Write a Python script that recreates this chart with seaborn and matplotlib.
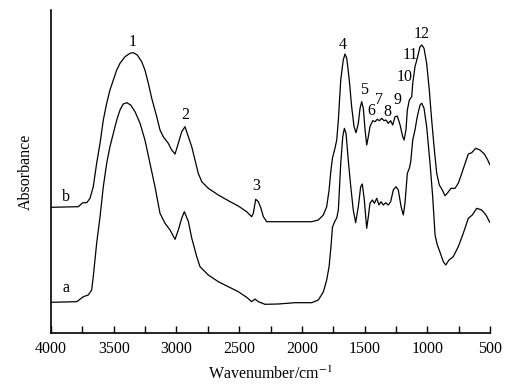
import matplotlib
matplotlib.use("Agg")
import matplotlib.pyplot as plt
import seaborn as sns
import pandas as pd
from matplotlib.ticker import MultipleLocator

# Curve b (upper): wavenumber (cm-1) and absorbance (arbitrary units)
wn_b = [4000, 3782, 3747, 3715, 3689, 3663, 3636, 3609, 3583, 3556, 3530, 3503, 3476, 3450,
        3410, 3370, 3344, 3312, 3277, 3251, 3224, 3197, 3157, 3131, 3105, 3065, 3038, 3011,
        2985, 2958, 2932, 2905, 2878, 2852, 2826, 2798, 2746, 2666, 2586, 2507, 2440, 2400,
        2387, 2368, 2347, 2326, 2307, 2280, 2188, 2055, 1921, 1869, 1829, 1802, 1783, 1768,
        1756, 1736, 1722, 1709, 1690, 1670, 1656, 1642, 1622, 1603, 1584, 1568, 1550, 1536,
        1523, 1510, 1496, 1483, 1470, 1457, 1435, 1417, 1398, 1382, 1363, 1345, 1329, 1311,
        1292, 1276, 1257, 1239, 1217, 1196, 1185, 1170, 1159, 1143, 1124, 1116, 1098, 1080,
        1058, 1044, 1026, 1005, 984, 965, 946, 925, 904, 880, 859, 837, 811, 779, 753, 725,
        694, 673, 646, 614, 580, 545, 518, 500]
ab_b = [125.7, 126.3, 130.3, 130.3, 134.7, 146.3, 169.7, 189.7, 213.0, 229.7, 243.0, 253.0,
        263.0, 269.7, 276.3, 279.7, 280.3, 278.0, 271.3, 263.0, 249.7, 234.7, 216.3, 203.0,
        196.3, 189.7, 183.0, 179.0, 189.7, 201.3, 206.3, 196.3, 186.3, 173.0, 159.7, 151.3,
        144.7, 138.0, 132.3, 127.0, 121.3, 116.3, 119.7, 133.7, 131.3, 124.7, 116.3, 111.3,
        111.3, 111.3, 111.3, 113.0, 118.0, 126.3, 143.0, 163.0, 175.0, 184.7, 193.0, 213.0,
        253.0, 273.0, 279.0, 274.7, 253.0, 226.3, 206.3, 200.3, 209.7, 224.7, 231.3, 224.7,
        203.0, 188.0, 196.3, 206.3, 212.3, 211.3, 213.7, 212.3, 214.7, 212.3, 213.0, 209.7,
        212.3, 208.0, 216.3, 217.0, 208.0, 196.3, 193.0, 203.0, 223.0, 233.0, 236.3, 249.7,
        266.3, 274.7, 286.3, 288.0, 284.7, 269.7, 243.0, 213.0, 186.3, 159.7, 148.0, 143.0,
        137.3, 140.3, 144.7, 144.7, 149.7, 159.7, 171.3, 179.0, 180.3, 184.7, 183.0, 179.0,
        173.0, 168.0]

# Curve a (lower)
wn_a = [4000, 3795, 3742, 3703, 3676, 3663, 3636, 3609, 3583, 3556, 3530, 3503, 3476, 3450,
        3424, 3396, 3365, 3330, 3290, 3251, 3211, 3171, 3131, 3091, 3051, 3011, 2985, 2958,
        2937, 2905, 2878, 2838, 2812, 2746, 2666, 2586, 2507, 2440, 2400, 2374, 2347, 2294,
        2188, 2055, 1921, 1869, 1829, 1802, 1783, 1768, 1756, 1736, 1722, 1709, 1690, 1674,
        1661, 1648, 1630, 1610, 1590, 1571, 1550, 1531, 1518, 1502, 1483, 1470, 1457, 1438,
        1422, 1403, 1385, 1369, 1351, 1331, 1311, 1292, 1271, 1249, 1231, 1209, 1191, 1178,
        1159, 1143, 1132, 1116, 1098, 1080, 1058, 1044, 1026, 1005, 978, 957, 938, 920, 899,
        891, 872, 853, 827, 793, 753, 713, 673, 641, 606, 566, 532, 500]
ab_a = [30.7, 31.3, 36.3, 38.0, 43.0, 56.3, 89.7, 116.3, 146.3, 169.7, 186.3, 199.7, 213.0,
        223.0, 229.0, 230.3, 228.0, 221.3, 209.7, 193.0, 169.7, 146.3, 119.7, 109.7, 103.0,
        93.7, 103.0, 114.7, 121.3, 111.5, 95.0, 76.3, 66.3, 58.0, 51.3, 46.3, 41.3, 35.7,
        31.3, 34.0, 31.3, 28.7, 29.0, 30.3, 30.3, 33.0, 41.0, 53.0, 66.3, 86.3, 106.0, 112.0,
        115.0, 123.0, 169.7, 196.3, 204.7, 199.7, 173.0, 146.3, 123.0, 110.3, 126.3, 146.3,
        149.0, 133.0, 104.7, 116.3, 129.7, 133.0, 129.7, 134.7, 128.0, 131.3, 128.0, 130.3,
        128.0, 131.3, 143.0, 146.3, 143.0, 126.3, 118.0, 129.7, 159.7, 164.7, 171.3, 193.0,
        203.0, 216.3, 228.0, 229.7, 224.7, 206.3, 169.7, 136.3, 98.0, 88.0, 81.0, 78.0, 71.3,
        68.0, 73.0, 76.3, 86.3, 99.7, 114.7, 118.0, 124.7, 123.0, 118.0, 110.3]

# Peak labels: text, wavenumber, height of the label baseline
peak_labels = ["1", "2", "3", "4", "5", "6", "7", "8", "9", "10", "11", "12"]
peak_wn = [3346, 2932, 2368, 1670, 1505, 1443, 1382, 1316, 1239, 1183, 1132, 1044]
peak_h = [283, 210, 139, 280, 235, 214, 225, 213, 225, 248, 270, 291]
curve_names = ["b", "a"]
curve_lbl_wn = [3880, 3880]
curve_lbl_h = [128, 37]

sns.set_theme(style="ticks")
plt.rcParams['font.family'] = ['Liberation Serif', 'DejaVu Serif']
plt.rcParams['mathtext.fontset'] = 'stix'

fig = plt.figure(figsize=(5.06, 3.86), dpi=100)
ax = fig.add_axes([51/506, 1-333/386, (490-51)/506, (333-10)/386])

df_b = pd.DataFrame({"wn": wn_b, "ab": ab_b})
df_a = pd.DataFrame({"wn": wn_a, "ab": ab_a})
sns.lineplot(data=df_b, x="wn", y="ab", ax=ax, color="black", linewidth=0.9)
sns.lineplot(data=df_a, x="wn", y="ab", ax=ax, color="black", linewidth=0.9)

for t, w, h in zip(peak_labels, peak_wn, peak_h):
    ax.text(w, h, t, ha="center", va="bottom", fontsize=11.5, color="black")
for t, w, h in zip(curve_names, curve_lbl_wn, curve_lbl_h):
    ax.text(w, h, t, ha="center", va="bottom", fontsize=11.5, color="black")

ax.set_xlim(4000, 500)
ax.set_ylim(0, 323)
ax.xaxis.set_major_locator(MultipleLocator(500))
ax.xaxis.set_minor_locator(MultipleLocator(250))
ax.tick_params(axis="x", which="both", direction="in", length=5, width=1, labelsize=11.5,
               colors="black", pad=6)
ax.set_yticks([])
for s in ["top", "right"]:
    ax.spines[s].set_visible(False)
for s in ["left", "bottom"]:
    ax.spines[s].set_color("black")
    ax.spines[s].set_linewidth(1.2)
ax.set_xlabel("Wavenumber/cm$^{-1}$", fontsize=11.5, color="black", labelpad=6)
ax.set_ylabel("Absorbance", fontsize=11.5, color="black", labelpad=12)

fig.savefig("out.png", dpi=100)
